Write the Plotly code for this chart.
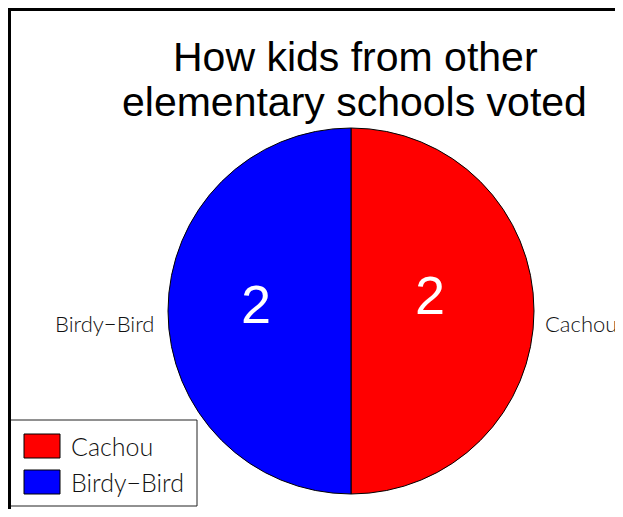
import plotly.graph_objects as go

title_lines = ['How kids from other', 'elementary schools voted']
labels = ['Cachou', 'Birdy\u2212Bird']
votes = [2, 2]
colors = ['#ff0000', '#0000ff']

# the page puts the plot 8px in from the top-left corner
W, H = 615, 501
OFF = 8


def px(x):
    return (x - OFF) / W


def py(y):
    return 1 - (y - OFF) / H


fig = go.Figure(go.Pie(
    labels=labels, values=votes, sort=False, direction='clockwise', rotation=0,
    marker=dict(colors=colors, line=dict(color='black', width=1)),
    textinfo='none', showlegend=False,
    domain=dict(x=[px(168), px(534)], y=[py(494), py(128)]),
    hoverinfo='label+value',
))

label_font = dict(size=25, color='#111', family='Lato', weight=300)
side_font = dict(size=22, color='#111', family='Lato', weight=300)

# values inside the slices
for v, (x, y) in zip(votes, [(430, 295), (256, 304)]):
    fig.add_annotation(text=str(v), x=px(x), y=py(y), xref='paper', yref='paper',
                       xanchor='center', yanchor='middle', showarrow=False,
                       font=dict(size=54, color='white', family='Liberation Sans'))

# slice names outside the pie
fig.add_annotation(text=labels[1], x=px(156), y=py(323), xref='paper', yref='paper',
                   xanchor='right', yanchor='middle', showarrow=False, font=side_font)
fig.add_annotation(text=labels[0], x=px(543), y=py(323), xref='paper', yref='paper',
                   xanchor='left', yanchor='middle', showarrow=False, font=side_font)

# title, two lines
for line, (x, y) in zip(title_lines, [(356, 57), (354, 102)]):
    fig.add_annotation(text=line, x=px(x), y=py(y), xref='paper', yref='paper',
                       xanchor='center', yanchor='middle', showarrow=False,
                       font=dict(size=41, color='black', family='Liberation Sans'))

# legend box
fig.add_shape(type='rect', xref='paper', yref='paper', x0=px(10), x1=px(197), y0=py(506), y1=py(420),
              line=dict(color='#222', width=1), fillcolor='white')
for i, (lab, col) in enumerate(zip(labels, colors)):
    yc = 446 + 36 * i
    fig.add_shape(type='rect', xref='paper', yref='paper', x0=px(24), x1=px(60),
                  y0=py(yc + 12), y1=py(yc - 12), fillcolor=col, line=dict(color='black', width=1))
    fig.add_annotation(text=lab, x=px(69), y=py(yc), xref='paper', yref='paper',
                       xanchor='left', yanchor='middle', showarrow=False, font=label_font)

# frame
fig.add_shape(type='rect', xref='paper', yref='paper', x0=px(9.5), x1=1.1, y0=-0.1, y1=py(9.5),
              line=dict(color='black', width=3))

fig.update_layout(
    width=W, height=H,
    margin=dict(l=0, r=0, t=0, b=0),
    paper_bgcolor='white', plot_bgcolor='white',
    showlegend=False,
)

fig.write_html("out.html")
